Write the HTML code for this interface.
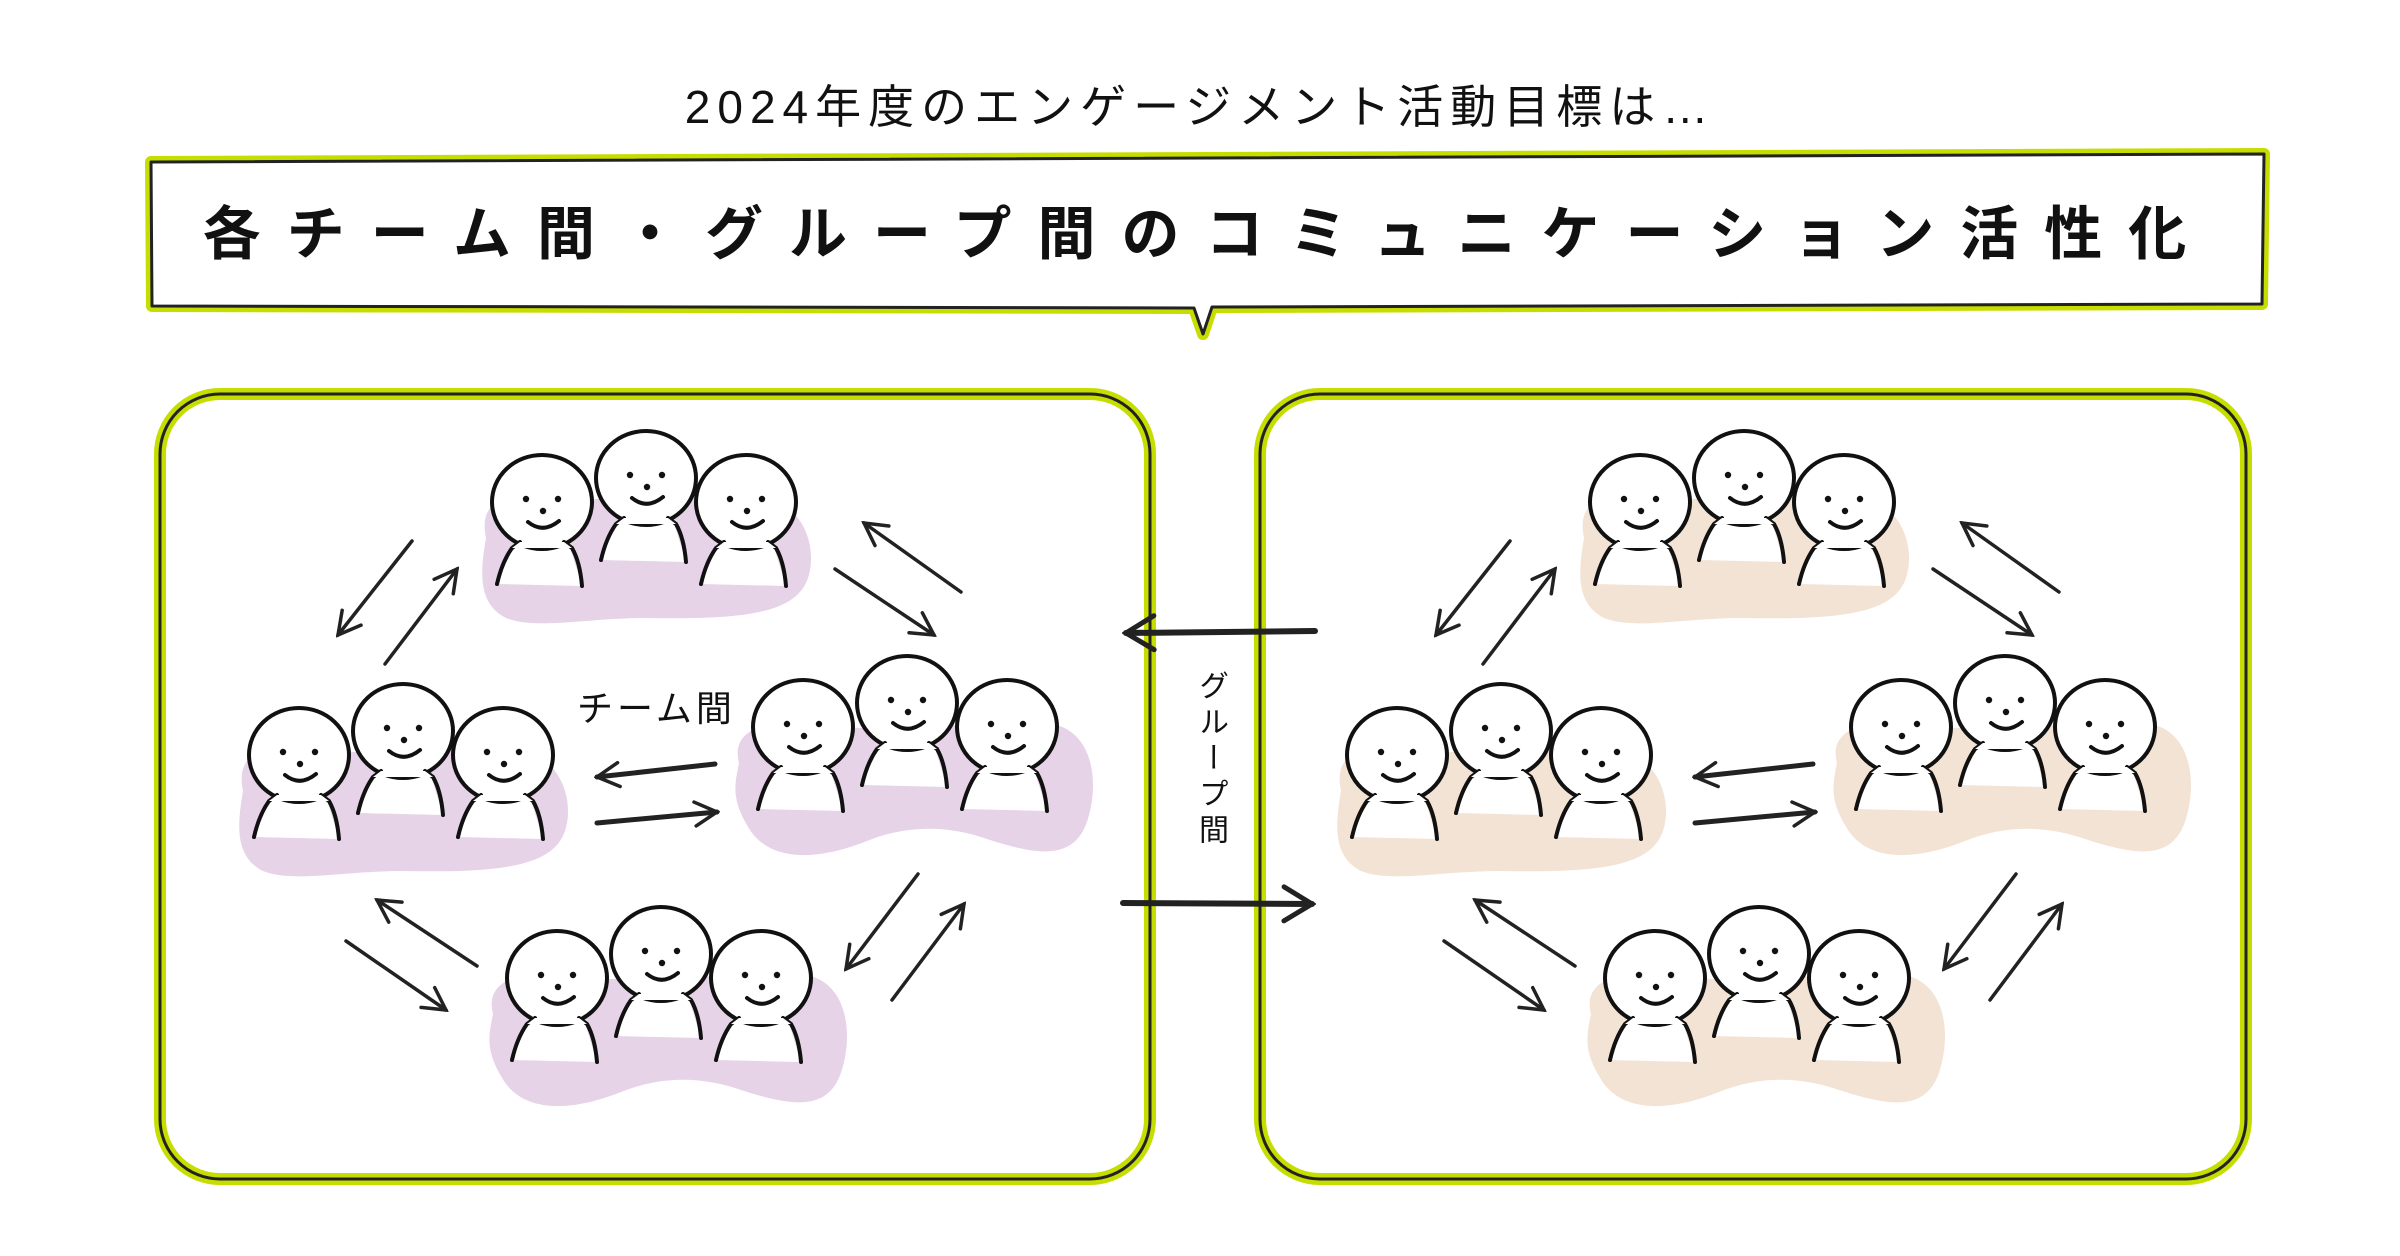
<!DOCTYPE html>
<html><head><meta charset="utf-8"><style>
html,body{margin:0;padding:0;background:#fff;}
body{width:2400px;height:1256px;overflow:hidden;position:relative;font-family:"Liberation Sans","Noto Sans CJK JP",sans-serif;color:#111;}
.t1{position:absolute;left:0;width:2400px;top:77px;text-align:center;font-size:46px;letter-spacing:7px;line-height:60px;}
.t2{position:absolute;left:151px;width:2113px;top:200px;text-align:center;font-size:58px;letter-spacing:26px;line-height:70px;font-weight:bold;}
.lb{position:absolute;left:577px;top:680px;font-size:36px;letter-spacing:4px;}
.vl{position:absolute;left:1188px;top:670px;font-size:30px;writing-mode:vertical-rl;letter-spacing:6px;}
</style></head><body>
<svg width="2400" height="1256" style="position:absolute;left:0;top:0">
<defs>
<marker id="ah" viewBox="0 0 30 30" refX="27" refY="15" markerWidth="30" markerHeight="30" markerUnits="userSpaceOnUse" orient="auto">
<path d="M5,3 L27,15 L5,27" fill="none" stroke="#222" stroke-width="3.5" stroke-linecap="round"/></marker>
<marker id="ah2" viewBox="0 0 40 40" refX="36" refY="20" markerWidth="40" markerHeight="40" markerUnits="userSpaceOnUse" orient="auto">
<path d="M8,3 L36,20 L8,37" fill="none" stroke="#222" stroke-width="5" stroke-linecap="round"/></marker>
<g id="p">
<path d="M-28,42 L-45,82 L40,84 L27,42 Z" fill="#fff"/>
<ellipse rx="50" ry="47" fill="#fff" stroke="#111" stroke-width="4"/>
<path d="M-22,40 Q-30,46 -30,46 Q-40,60 -45,82 M22,40 Q30,46 30,46 Q38,60 40,84" fill="none" stroke="#111" stroke-width="4" stroke-linecap="round"/>
<path d="M-22,40 L22,40 L30,46 L-30,46 Z" fill="#fff"/>
<circle cx="-16" cy="-3" r="3.2" fill="#111"/><circle cx="16" cy="-3" r="3.2" fill="#111"/><circle cx="1" cy="9" r="3.2" fill="#111"/>
<path d="M-14,20 Q1,32 17,19" fill="none" stroke="#111" stroke-width="4" stroke-linecap="round"/>
</g>
<g id="trio">
<use href="#p" x="-104" y="24"/><use href="#p" x="100" y="24"/><use href="#p" x="0" y="0"/>
</g>
<path id="b1" d="M-160,60 C-168,22 -140,14 -100,22 L110,18 C158,22 172,70 162,100 C150,135 100,142 0,140 C-60,140 -110,152 -140,140 C-170,125 -165,90 -160,60 Z"/>
<path id="b2" d="M-168,60 C-178,22 -130,14 -90,26 L140,20 C185,25 192,75 182,112 C170,160 130,152 80,136 C40,122 0,122 -40,138 C-90,158 -140,160 -160,122 C-176,95 -172,80 -168,60 Z"/>
</defs>

<path d="M151,162 L2264,154 L2262,304 L1212,307 L1203,334 L1194,308 L152,306 Z" fill="#fff" stroke="#c6dd00" stroke-width="12" stroke-linejoin="round"/>
<path d="M151,162 L2264,154 L2262,304 L1212,307 L1203,334 L1194,308 L152,306 Z" fill="#fff" stroke="#222" stroke-width="3" stroke-linejoin="round"/>

<rect x="160" y="394" width="990" height="785" rx="60" fill="#fff" stroke="#c6dd00" stroke-width="12"/>
<rect x="160" y="394" width="990" height="785" rx="60" fill="none" stroke="#222" stroke-width="3"/>
<rect x="1260" y="394" width="986" height="785" rx="60" fill="#fff" stroke="#c6dd00" stroke-width="12"/>
<rect x="1260" y="394" width="986" height="785" rx="60" fill="none" stroke="#222" stroke-width="3"/>

<g fill="#e6d3e7">
<use href="#b1" transform="translate(646,478)"/>
<use href="#b1" transform="translate(403,731)"/>
<use href="#b2" transform="translate(907,703)"/>
<use href="#b2" transform="translate(661,954)"/>
</g>
<g fill="#f3e3d4">
<use href="#b1" transform="translate(1744,478)"/>
<use href="#b1" transform="translate(1501,731)"/>
<use href="#b2" transform="translate(2005,703)"/>
<use href="#b2" transform="translate(1759,954)"/>
</g>
<use href="#trio" x="646" y="478"/>
<use href="#trio" x="403" y="731"/>
<use href="#trio" x="907" y="703"/>
<use href="#trio" x="661" y="954"/>
<use href="#trio" x="1744" y="478"/>
<use href="#trio" x="1501" y="731"/>
<use href="#trio" x="2005" y="703"/>
<use href="#trio" x="1759" y="954"/>

<g id="arr" fill="none" stroke="#222" stroke-width="3.5" stroke-linecap="round">
<line x1="412" y1="541" x2="338" y2="635" marker-end="url(#ah)"/>
<line x1="385" y1="664" x2="457" y2="569" marker-end="url(#ah)"/>
<line x1="961" y1="592" x2="864" y2="523" marker-end="url(#ah)"/>
<line x1="835" y1="569" x2="934" y2="635" marker-end="url(#ah)"/>
<line x1="715" y1="764" x2="597" y2="777" stroke-width="5" marker-end="url(#ah)"/>
<line x1="597" y1="823" x2="717" y2="812" stroke-width="5" marker-end="url(#ah)"/>
<line x1="477" y1="966" x2="377" y2="900" marker-end="url(#ah)"/>
<line x1="346" y1="941" x2="446" y2="1010" marker-end="url(#ah)"/>
<line x1="918" y1="874" x2="846" y2="969" marker-end="url(#ah)"/>
<line x1="892" y1="1000" x2="964" y2="904" marker-end="url(#ah)"/>
</g>
<use href="#arr" x="1098" y="0"/>

<g fill="none" stroke="#222" stroke-width="6" stroke-linecap="round">
<line x1="1315" y1="631" x2="1126" y2="633" marker-end="url(#ah2)"/>
<line x1="1123" y1="903" x2="1312" y2="904" marker-end="url(#ah2)"/>
</g>
</svg>
<div class="t1">2024年度のエンゲージメント活動目標は…</div>
<div class="t2">各チーム間・グループ間のコミュニケーション活性化</div>
<div class="lb">チーム間</div>
<div class="vl">グループ間</div>
</body></html>
